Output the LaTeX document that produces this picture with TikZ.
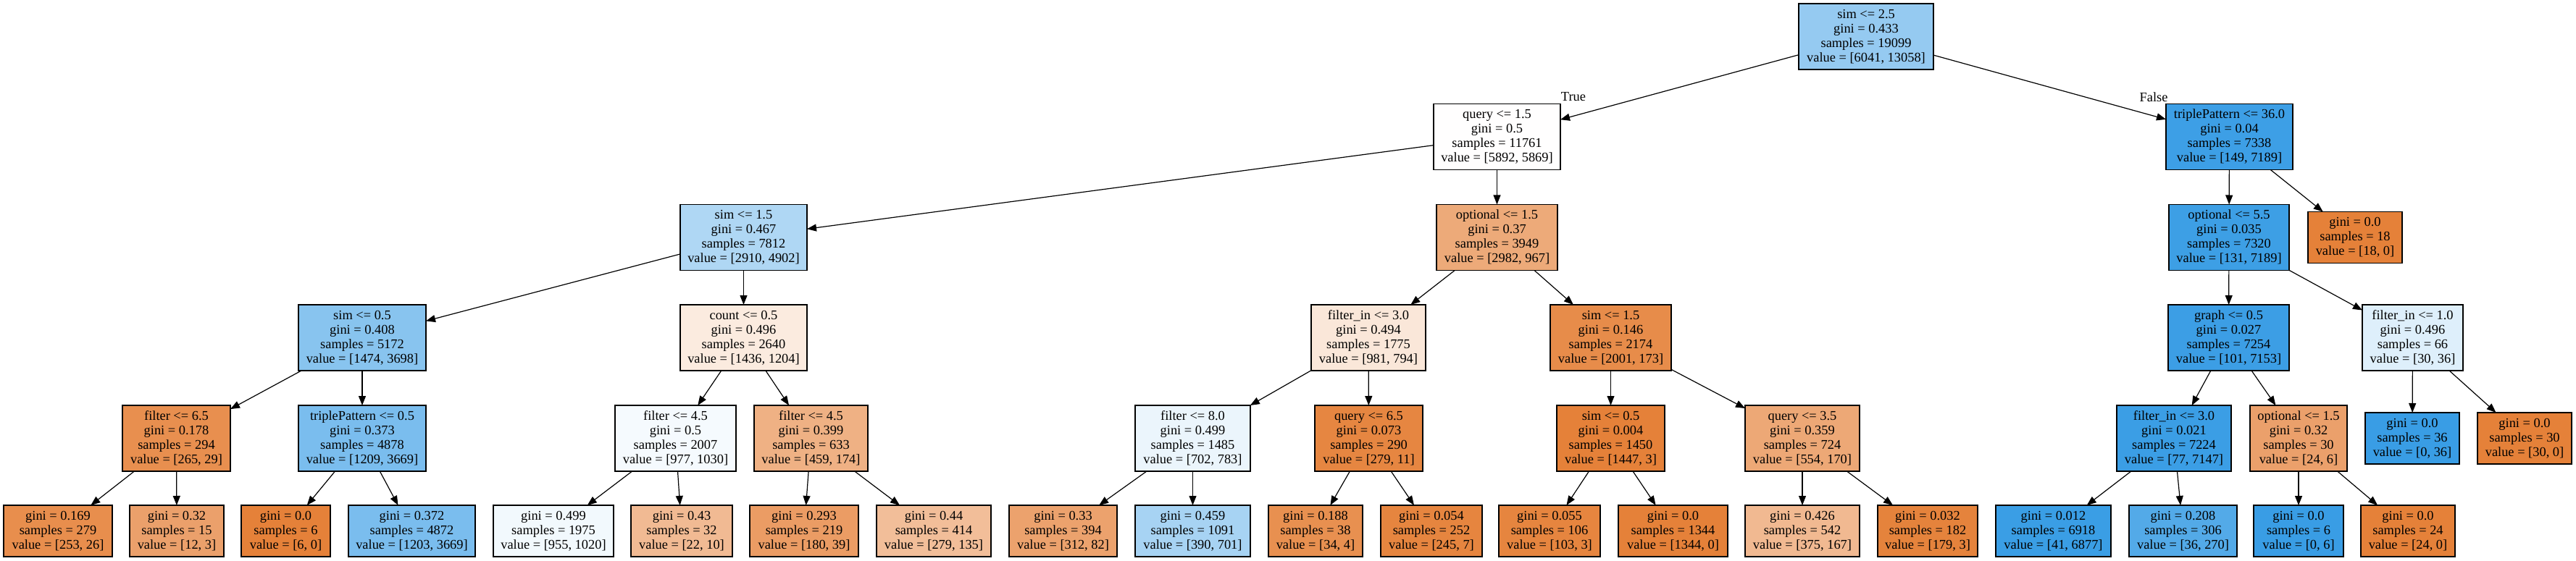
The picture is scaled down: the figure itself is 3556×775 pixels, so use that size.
\documentclass[tikz,border=0pt]{standalone}
\usepackage{fontspec}
\setmainfont{Liberation Serif}
\usetikzlibrary{arrows.meta}
\definecolor{cor}{RGB}{229,129,57}
\definecolor{cbl}{RGB}{57,157,229}
\begin{document}
\begin{tikzpicture}[x=0.5pt,y=-0.5pt,
  tbox/.style={draw=black,line width=0.6pt,rectangle,inner sep=0pt,outer sep=0pt,align=center,font=\fontsize{9.2}{10}\selectfont},
  inn/.style={minimum height=45.5pt},
  lf/.style={minimum height=35.5pt},
  edge/.style={draw=black,line width=0.6pt,-{Triangle[length=6.5pt,width=5pt]}},
  lbl/.style={font=\fontsize{9.2}{10}\selectfont,inner sep=0pt}]
\useasboundingbox (0,0) rectangle (3556,775);
% level 0
\node[tbox,inn,minimum width=93pt,fill=cbl!53.7!white] (n0) at (2576,50.5) {sim <= 2.5\\gini = 0.433\\samples = 19099\\value = [6041, 13058]};
% level 1
\node[tbox,inn,minimum width=87.5pt,fill=cor!0.4!white] (n1) at (2066.5,189) {query <= 1.5\\gini = 0.5\\samples = 11761\\value = [5892, 5869]};
\node[tbox,inn,minimum width=87.5pt,fill=cbl!97.9!white] (n33) at (3077.5,189) {triplePattern <= 36.0\\gini = 0.04\\samples = 7338\\value = [149, 7189]};
% level 2
\node[tbox,inn,minimum width=87.5pt,fill=cbl!40.6!white] (n2) at (1026.5,328) {sim <= 1.5\\gini = 0.467\\samples = 7812\\value = [2910, 4902]};
\node[tbox,inn,minimum width=83.5pt,fill=cor!67.6!white] (n18) at (2066.5,328) {optional <= 1.5\\gini = 0.37\\samples = 3949\\value = [2982, 967]};
\node[tbox,inn,minimum width=83pt,fill=cbl!98.2!white] (n34) at (3077,328) {optional <= 5.5\\gini = 0.035\\samples = 7320\\value = [131, 7189]};
\node[tbox,lf,minimum width=65pt,fill=cor] (n45) at (3251,328) {gini = 0.0\\samples = 18\\value = [18, 0]};
% level 3
\node[tbox,inn,minimum width=88pt,fill=cbl!60.1!white] (n3) at (500,466.5) {sim <= 0.5\\gini = 0.408\\samples = 5172\\value = [1474, 3698]};
\node[tbox,inn,minimum width=87.5pt,fill=cor!16.2!white] (n11) at (1026.5,466.5) {count <= 0.5\\gini = 0.496\\samples = 2640\\value = [1436, 1204]};
\node[tbox,inn,minimum width=79pt,fill=cor!19.1!white] (n19) at (1889,466.5) {filter\_in <= 3.0\\gini = 0.494\\samples = 1775\\value = [981, 794]};
\node[tbox,inn,minimum width=83.5pt,fill=cor!91.4!white] (n26) at (2223.5,466.5) {sim <= 1.5\\gini = 0.146\\samples = 2174\\value = [2001, 173]};
\node[tbox,inn,minimum width=83.5pt,fill=cbl!98.6!white] (n35) at (3076.5,466.5) {graph <= 0.5\\gini = 0.027\\samples = 7254\\value = [101, 7153]};
\node[tbox,inn,minimum width=69.5pt,fill=cbl!16.7!white] (n42) at (3330.5,466.5) {filter\_in <= 1.0\\gini = 0.496\\samples = 66\\value = [30, 36]};
% level 4
\node[tbox,inn,minimum width=74.5pt,fill=cor!89.1!white] (n4) at (243.5,605.5) {filter <= 6.5\\gini = 0.178\\samples = 294\\value = [265, 29]};
\node[tbox,inn,minimum width=88pt,fill=cbl!67.0!white] (n8) at (500,605.5) {triplePattern <= 0.5\\gini = 0.373\\samples = 4878\\value = [1209, 3669]};
\node[tbox,inn,minimum width=83.5pt,fill=cbl!5.1!white] (n12) at (932.5,605.5) {filter <= 4.5\\gini = 0.5\\samples = 2007\\value = [977, 1030]};
\node[tbox,inn,minimum width=78.5pt,fill=cor!62.1!white] (n15) at (1119.5,605.5) {filter <= 4.5\\gini = 0.399\\samples = 633\\value = [459, 174]};
\node[tbox,inn,minimum width=79.5pt,fill=cbl!10.3!white] (n20) at (1646.5,605.5) {filter <= 8.0\\gini = 0.499\\samples = 1485\\value = [702, 783]};
\node[tbox,inn,minimum width=74.5pt,fill=cor!96.1!white] (n23) at (1889.5,605.5) {query <= 6.5\\gini = 0.073\\samples = 290\\value = [279, 11]};
\node[tbox,inn,minimum width=74.5pt,fill=cor!99.8!white] (n27) at (2223.5,605.5) {sim <= 0.5\\gini = 0.004\\samples = 1450\\value = [1447, 3]};
\node[tbox,inn,minimum width=79pt,fill=cor!69.3!white] (n30) at (2488,605.5) {query <= 3.5\\gini = 0.359\\samples = 724\\value = [554, 170]};
\node[tbox,inn,minimum width=79pt,fill=cbl!98.9!white] (n36) at (3001,605.5) {filter\_in <= 3.0\\gini = 0.021\\samples = 7224\\value = [77, 7147]};
\node[tbox,inn,minimum width=67pt,fill=cor!75!white] (n39) at (3173,605.5) {optional <= 1.5\\gini = 0.32\\samples = 30\\value = [24, 6]};
\node[tbox,lf,minimum width=65pt,fill=cbl] (n43) at (3330,605.5) {gini = 0.0\\samples = 36\\value = [0, 36]};
\node[tbox,lf,minimum width=65pt,fill=cor] (n44) at (3485,605.5) {gini = 0.0\\samples = 30\\value = [30, 0]};
% level 5 leaves
\node[tbox,lf,minimum width=75pt,fill=cor!89.7!white] (n5) at (80,733.5) {gini = 0.169\\samples = 279\\value = [253, 26]};
\node[tbox,lf,minimum width=65pt,fill=cor!75!white] (n6) at (244,733.5) {gini = 0.32\\samples = 15\\value = [12, 3]};
\node[tbox,lf,minimum width=61.5pt,fill=cor] (n9) at (394.5,733.5) {gini = 0.0\\samples = 6\\value = [6, 0]};
\node[tbox,lf,minimum width=87.5pt,fill=cbl!67.2!white] (n10) at (568.5,733.5) {gini = 0.372\\samples = 4872\\value = [1203, 3669]};
\node[tbox,lf,minimum width=83pt,fill=cbl!6.4!white] (n13) at (764,733.5) {gini = 0.499\\samples = 1975\\value = [955, 1020]};
\node[tbox,lf,minimum width=70pt,fill=cor!54.5!white] (n14) at (941,733.5) {gini = 0.43\\samples = 32\\value = [22, 10]};
\node[tbox,lf,minimum width=75pt,fill=cor!78.3!white] (n16) at (1110,733.5) {gini = 0.293\\samples = 219\\value = [180, 39]};
\node[tbox,lf,minimum width=79pt,fill=cor!51.6!white] (n17) at (1289,733.5) {gini = 0.44\\samples = 414\\value = [279, 135]};
\node[tbox,lf,minimum width=74.5pt,fill=cor!73.7!white] (n21) at (1467.5,733.5) {gini = 0.33\\samples = 394\\value = [312, 82]};
\node[tbox,lf,minimum width=79.5pt,fill=cbl!44.4!white] (n22) at (1646.5,733.5) {gini = 0.459\\samples = 1091\\value = [390, 701]};
\node[tbox,lf,minimum width=65pt,fill=cor!88.2!white] (n24) at (1816,733.5) {gini = 0.188\\samples = 38\\value = [34, 4]};
\node[tbox,lf,minimum width=70pt,fill=cor!97.1!white] (n25) at (1976,733.5) {gini = 0.054\\samples = 252\\value = [245, 7]};
\node[tbox,lf,minimum width=70pt,fill=cor!97.1!white] (n28) at (2139,733.5) {gini = 0.055\\samples = 106\\value = [103, 3]};
\node[tbox,lf,minimum width=75.5pt,fill=cor] (n29) at (2309.5,733.5) {gini = 0.0\\samples = 1344\\value = [1344, 0]};
\node[tbox,lf,minimum width=79pt,fill=cor!55.5!white] (n31) at (2488,733.5) {gini = 0.426\\samples = 542\\value = [375, 167]};
\node[tbox,lf,minimum width=69pt,fill=cor!98.3!white] (n32) at (2661,733.5) {gini = 0.032\\samples = 182\\value = [179, 3]};
\node[tbox,lf,minimum width=79.5pt,fill=cbl!99.4!white] (n37) at (2834.5,733.5) {gini = 0.012\\samples = 6918\\value = [41, 6877]};
\node[tbox,lf,minimum width=74.5pt,fill=cbl!86.7!white] (n38) at (3013.5,733.5) {gini = 0.208\\samples = 306\\value = [36, 270]};
\node[tbox,lf,minimum width=62pt,fill=cbl] (n40) at (3173,733.5) {gini = 0.0\\samples = 6\\value = [0, 6]};
\node[tbox,lf,minimum width=65pt,fill=cor] (n41) at (3324,733.5) {gini = 0.0\\samples = 24\\value = [24, 0]};
% edges
\draw[edge] (n0) -- (n1);
\draw[edge] (n0) -- (n33);
\draw[edge] (n1) -- (n2);
\draw[edge] (n1) -- (n18);
\draw[edge] (n2) -- (n3);
\draw[edge] (n2) -- (n11);
\draw[edge] (n3) -- (n4);
\draw[edge] (n3) -- (n8);
\draw[edge] (n4) -- (n5);
\draw[edge] (n4) -- (n6);
\draw[edge] (n8) -- (n9);
\draw[edge] (n8) -- (n10);
\draw[edge] (n11) -- (n12);
\draw[edge] (n11) -- (n15);
\draw[edge] (n12) -- (n13);
\draw[edge] (n12) -- (n14);
\draw[edge] (n15) -- (n16);
\draw[edge] (n15) -- (n17);
\draw[edge] (n18) -- (n19);
\draw[edge] (n18) -- (n26);
\draw[edge] (n19) -- (n20);
\draw[edge] (n19) -- (n23);
\draw[edge] (n20) -- (n21);
\draw[edge] (n20) -- (n22);
\draw[edge] (n23) -- (n24);
\draw[edge] (n23) -- (n25);
\draw[edge] (n26) -- (n27);
\draw[edge] (n26) -- (n30);
\draw[edge] (n27) -- (n28);
\draw[edge] (n27) -- (n29);
\draw[edge] (n30) -- (n31);
\draw[edge] (n30) -- (n32);
\draw[edge] (n33) -- (n34);
\draw[edge] (n33) -- (n45);
\draw[edge] (n34) -- (n35);
\draw[edge] (n34) -- (n42);
\draw[edge] (n35) -- (n36);
\draw[edge] (n35) -- (n39);
\draw[edge] (n36) -- (n37);
\draw[edge] (n36) -- (n38);
\draw[edge] (n39) -- (n40);
\draw[edge] (n39) -- (n41);
\draw[edge] (n42) -- (n43);
\draw[edge] (n42) -- (n44);
% edge labels
\node[lbl] (ltrue) at (2172,134) {True};
\node[lbl] (lfalse) at (2973,134) {False};
\end{tikzpicture}
\end{document}
